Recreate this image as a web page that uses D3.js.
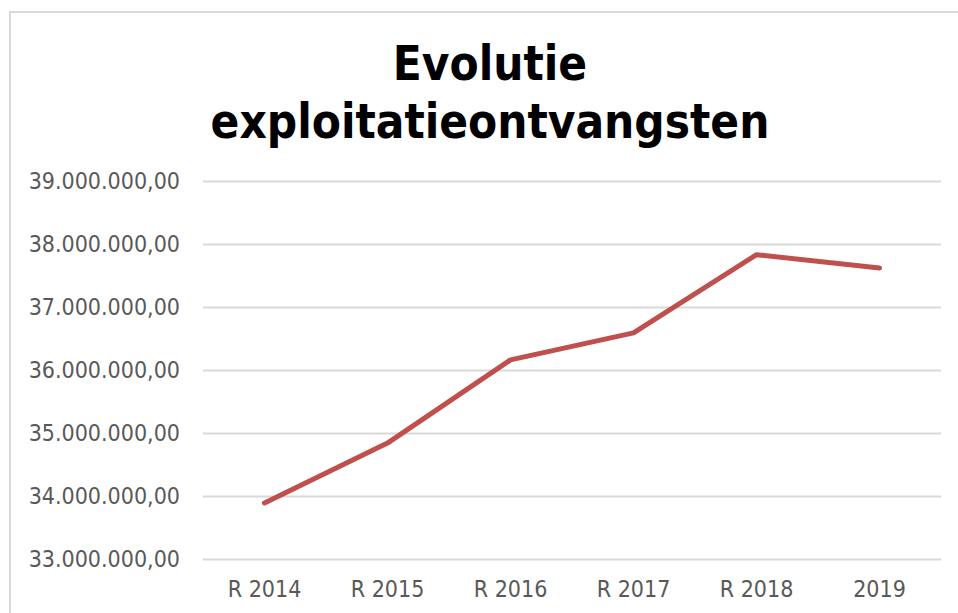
<!DOCTYPE html>
<html>
<head>
<meta charset="utf-8">
<script src="https://cdnjs.cloudflare.com/ajax/libs/d3/7.8.5/d3.min.js"></script>
<style>
  body { margin: 0; background: #fff; }
  svg { display: block; }
</style>
</head>
<body>
<div id="chart"></div>
<script>
var svgWidth = 958;
var svgHeight = 613;

// data
var categories = ["R 2014", "R 2015", "R 2016", "R 2017", "R 2018", "2019"];
var values = [33890000, 34840000, 36160000, 36590000, 37830000, 37620000];
var yTicks = [33000000, 34000000, 35000000, 36000000, 37000000, 38000000, 39000000];
var titleLines = ["Evolutie", "exploitatieontvangsten"];

var margin = { top: 181, right: 17, bottom: 54, left: 203 };
var width = svgWidth - margin.left - margin.right;
var height = svgHeight - margin.top - margin.bottom;

var svg = d3.select("#chart")
  .append("svg")
  .attr("width", svgWidth)
  .attr("height", svgHeight);

// chart area border (runs off the page on the right and bottom)
svg.append("rect")
  .attr("x", 10)
  .attr("y", 12)
  .attr("width", 1000)
  .attr("height", 700)
  .attr("fill", "none")
  .attr("stroke", "#d9d9d9")
  .attr("stroke-width", 2);

var chartGroup = svg.append("g")
  .attr("transform", `translate(${margin.left}, ${margin.top})`);

var xScale = d3.scaleBand()
  .domain(categories)
  .range([0, width]);

var yScale = d3.scaleLinear()
  .domain([33000000, 39000000])
  .range([height, 0]);

// nl-BE style number format: 39.000.000,00
var nl = d3.formatLocale({ decimal: ",", thousands: ".", grouping: [3], currency: ["€", ""] });
var fmt = nl.format(",.2f");

var labelFont = "'DejaVu Sans Condensed', 'DejaVu Sans', sans-serif";

// gridlines
chartGroup.append("g")
  .selectAll("line")
  .data(yTicks)
  .enter()
  .append("line")
  .attr("x1", 0)
  .attr("x2", width)
  .attr("y1", d => Math.round(yScale(d)) + 0.5)
  .attr("y2", d => Math.round(yScale(d)) + 0.5)
  .attr("stroke", "#d9d9d9")
  .attr("stroke-width", 2);

// y axis labels
var leftAxis = d3.axisLeft(yScale)
  .tickValues(yTicks)
  .tickFormat(fmt)
  .tickSize(0)
  .tickPadding(23);

var yAxis = chartGroup.append("g").call(leftAxis);
yAxis.select(".domain").remove();
yAxis.selectAll("text")
  .attr("fill", "#595959")
  .style("font-family", labelFont)
  .style("font-size", "23px");

// x axis labels
var bottomAxis = d3.axisBottom(xScale)
  .tickSize(0)
  .tickPadding(22);

var xAxis = chartGroup.append("g")
  .attr("transform", `translate(0, ${height})`)
  .call(bottomAxis);
xAxis.select(".domain").remove();
xAxis.selectAll("text")
  .attr("fill", "#595959")
  .style("font-family", labelFont)
  .style("font-size", "23px");

// the line
var line = d3.line()
  .x((d, i) => xScale(categories[i]) + xScale.bandwidth() / 2)
  .y(d => yScale(d));

chartGroup.append("path")
  .datum(values)
  .attr("d", line)
  .attr("fill", "none")
  .attr("stroke", "#c0504d")
  .attr("stroke-width", 5)
  .attr("stroke-linecap", "round")
  .attr("stroke-linejoin", "round");

// title
var title = svg.append("g");
var titleY = [80, 138];
titleLines.forEach(function(t, i) {
  title.append("text")
    .attr("x", 490)
    .attr("y", titleY[i])
    .attr("text-anchor", "middle")
    .style("font-family", labelFont)
    .style("font-weight", "bold")
    .style("font-size", "48px")
    .attr("fill", "#000")
    .text(t);
});

// scale title so the long line matches the reference width
var longest = title.selectAll("text").nodes()[1];
var w = longest.getComputedTextLength();
var fs = 48 * 559 / w;
title.selectAll("text").style("font-size", fs + "px");
</script>
</body>
</html>
